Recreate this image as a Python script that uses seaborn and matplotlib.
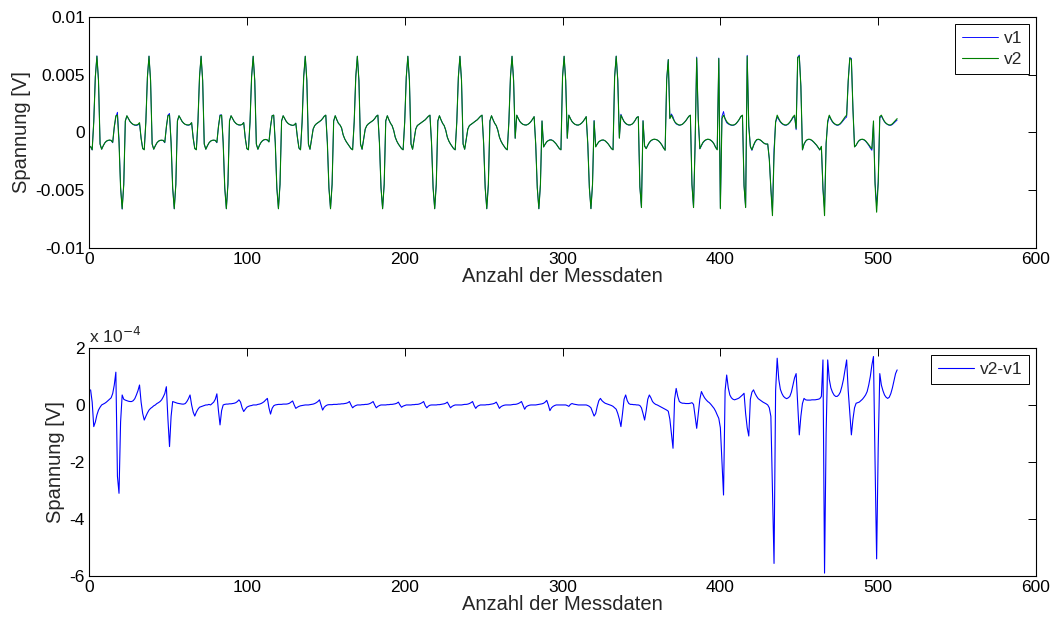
import numpy as np
import matplotlib
matplotlib.use("Agg")
import matplotlib.pyplot as plt
from matplotlib.ticker import FuncFormatter
import seaborn as sns

# Measured voltage v2 in mV, one value per sample (samples 1..512)
v2_mv = [
    -1.2, -1.5, 0.9, 4.8,
    6.6, 4.5, -1.0, -1.45, -1.15, -0.9, -0.75, -0.68, -0.65, -0.68, -0.85, 0.5, 1.45, 1.5, -0.9, -4.8, -6.6,
    -4.5, 1.0, 1.45, 1.2, 0.95, 0.8, 0.7, 0.65, 0.65, 0.7, 0.85, -0.5, -1.4, -1.5, 0.9, 4.8, 6.6,
    4.5, -1.0, -1.45, -1.15, -0.9, -0.75, -0.68, -0.66, -0.68, -0.85, 0.5, 1.45, 1.5, -0.9, -4.8, -6.6,
    -4.5, 1.0, 1.45, 1.2, 0.95, 0.8, 0.7, 0.66, 0.65, 0.7, 0.85, -0.5, -1.4, -1.5, 0.9, 4.8, 6.6,
    4.5, -1.0, -1.45, -1.15, -0.9, -0.75, -0.68, -0.66, -0.68, -0.85, 0.5, 1.45, 1.5, -0.9, -4.8, -6.6,
    -4.5, 1.0, 1.45, 1.2, 0.95, 0.8, 0.7, 0.66, 0.65, 0.7, 0.85, -0.5, -1.4, -1.5, 0.9, 4.8, 6.6,
    4.5, -1.0, -1.45, -1.1, -0.85, -0.7, -0.62, -0.6, -0.64, -0.82, 0.5, 1.45, 1.5, -0.9, -4.8, -6.6,
    -4.5, 1.0, 1.45, 1.2, 0.95, 0.8, 0.7, 0.65, 0.62, 0.65, 0.8, -0.4, -1.35, -1.5, 0.9, 4.8, 6.6,
    4.5, -1.0, -1.45, -0.6, 0.3, 0.6, 0.75, 0.85, 0.95, 1.05, 1.2, 1.4, 1.5, -0.9, -4.8, -6.6,
    -4.5, 1.0, 1.45, 1.1, 0.8, 0.65, 0.4, -0.2, -0.55, -0.8, -1.0, -1.2, -1.4, -1.5, 0.9, 4.8, 6.6,
    4.5, -1.0, -1.45, -0.6, 0.3, 0.6, 0.75, 0.85, 0.95, 1.05, 1.2, 1.4, 1.5, -0.9, -4.8, -6.6,
    -4.5, 1.0, 1.45, 1.1, 0.8, 0.6, 0.2, -0.4, -0.75, -1.0, -1.2, -1.4, -1.5, 0.9, 4.8, 6.6,
    4.5, -1.0, -1.45, -0.6, 0.3, 0.6, 0.7, 0.8, 0.9, 1.0, 1.1, 1.25, 1.4, 1.5, -0.9, -4.8, -6.6,
    -4.5, 1.0, 1.45, 1.1, 0.8, 0.6, 0.2, -0.4, -0.75, -1.0, -1.2, -1.4, -1.5, 0.9, 4.8, 6.6,
    4.5, -1.0, -1.45, -0.6, 0.3, 0.6, 0.7, 0.8, 0.9, 1.0, 1.1, 1.25, 1.4, 1.5, -0.9, -4.8, -6.6,
    -4.5, 1.0, 1.45, 1.1, 0.8, 0.6, 0.2, -0.4, -0.75, -1.0, -1.2, -1.4, -1.5, 0.9, 4.8, 6.6,
    4.5, -0.5, 1.5, 1.2, 0.95, 0.8, 0.7, 0.65, 0.64, 0.7, 0.8, 0.95, 1.15, 1.37, -1.0, -4.8, -6.6,
    -4.5, 1.0, -1.25, -1.0, -0.8, -0.7, -0.65, -0.65, -0.72, -0.85, -1.0, -1.2, -1.4, -1.5, 4.8, 6.6,
    4.5, -0.5, 1.5, 1.2, 0.95, 0.8, 0.7, 0.65, 0.64, 0.7, 0.8, 0.95, 1.15, 1.37, -1.0, -4.8, -6.6,
    -4.5, 1.0, -1.25, -1.0, -0.8, -0.7, -0.65, -0.65, -0.72, -0.85, -1.0, -1.2, -1.4, -1.5, 4.8, 6.6,
    4.5, -0.5, 1.5, 1.2, 0.95, 0.8, 0.7, 0.65, 0.66, 0.72, 0.85, 1.05, 1.3, 1.37, -4.7, -6.5,
    1.0, -1.2, -1.4, -1.1, -0.85, -0.7, -0.62, -0.58, -0.6, -0.65, -0.75, -0.9, -1.1, -1.35, -1.54, 4.6, 6.3,
    1.2, 1.5, 1.2, 0.95, 0.8, 0.7, 0.64, 0.66, 0.72, 0.85, 1.0, 1.2, 1.4, 1.5, -4.5, -6.5,
    -1.0, 6.45, 1.1, -1.4, -1.1, -0.85, -0.7, -0.62, -0.58, -0.6, -0.68, -0.8, -1.0, -1.3, -1.5, 6.4, -6.6,
    1.2, 1.5, 1.2, 0.95, 0.8, 0.7, 0.65, 0.64, 0.68, 0.78, 0.95, 1.15, 1.4, 1.5, -4.6, -6.5, 6.6,
    0.5, -1.2, -1.5, -1.1, -0.8, -0.62, -0.58, -0.62, -0.72, -0.85, -0.96, -1.0, -1.0, -2.3, -4.9, -7.2,
    -2.0, 0.93, 1.5, 1.2, 0.95, 0.8, 0.7, 0.65, 0.66, 0.75, 0.9, 1.1, 1.35, 1.5, 0.35, 6.5, 6.6,
    4.0, -1.5, -1.0, -0.75, -0.62, -0.58, -0.6, -0.68, -0.8, -0.95, -1.1, -1.3, -1.5, -1.2, -4.8, -7.2,
    -1.0, 1.0, 1.5, 1.2, 0.95, 0.8, 0.7, 0.65, 0.68, 0.78, 0.95, 1.15, 1.35, 1.5, 4.5, 6.45,
    6.3, 2.0, -1.25, -1.1, -0.85, -0.68, -0.6, -0.58, -0.62, -0.72, -0.88, -1.05, -1.25, -1.4, 1.0, -4.5, -6.9,
    -4.4, 1.37, 1.5, 1.2, 0.95, 0.8, 0.7, 0.65, 0.66, 0.75, 0.9, 1.05, 1.2,
]

# Difference v2 - v1 in units of 1e-4 V (samples 1..512)
diff_e4 = [
    0.53, 0.1, -0.76, -0.6, -0.35, -0.18, -0.08, 0.0, 0.03, 0.06, 0.1, 0.15, 0.2, 0.25, 0.4, 0.7, 1.15, -2.5, -3.1, -0.6,
    0.35, 0.2, 0.17, 0.15, 0.13, 0.12, 0.12, 0.15, 0.22, 0.35, 0.5, 0.7, 0.1, -0.3, -0.53, -0.4, -0.28, -0.18, -0.12, -0.08,
    -0.03, 0.0, 0.05, 0.08, 0.12, 0.18, 0.28, 0.4, 0.64, -0.5, -1.46, -0.4, 0.12, 0.1, 0.08, 0.06, 0.05, 0.04, 0.03, 0.03,
    0.05, 0.12, 0.22, 0.35, 0.0, -0.25, -0.39, -0.25, -0.15, -0.08, -0.06, -0.04, -0.02, 0.0, 0.0, 0.02, 0.0, 0.05, 0.1, 0.2,
    0.39, -0.2, -0.7, -0.2, 0.0, 0.02, 0.03, 0.03, 0.04, 0.04, 0.05, 0.06, 0.08, 0.12, 0.18, 0.1, -0.1, -0.23, -0.15, -0.08,
    -0.05, -0.03, -0.02, 0.0, 0.0, 0.0, 0.02, 0.03, 0.05, 0.08, 0.12, 0.18, 0.23, -0.1, -0.32, -0.12, -0.03, 0.0, 0.01, 0.02,
    0.02, 0.02, 0.03, 0.03, 0.03, 0.04, 0.06, 0.1, 0.14, 0.0, -0.12, -0.08, -0.05, -0.03, -0.02, -0.01, 0.0, 0.0, 0.0, 0.01,
    0.02, 0.03, 0.05, 0.08, 0.12, 0.18, 0.0, -0.18, -0.08, -0.03, 0.0, 0.01, 0.01, 0.01, 0.02, 0.02, 0.02, 0.03, 0.03, 0.04,
    0.04, 0.05, 0.06, 0.08, 0.12, 0.0, -0.1, -0.05, -0.02, 0.0, 0.0, 0.0, 0.01, 0.01, 0.02, 0.02, 0.03, 0.05, 0.08, 0.12,
    0.0, -0.1, -0.05, -0.02, 0.0, 0.0, 0.0, 0.0, 0.01, 0.01, 0.02, 0.02, 0.03, 0.04, 0.06, 0.1, 0.0, -0.08, -0.04, -0.02,
    0.0, 0.0, 0.0, 0.0, 0.01, 0.01, 0.02, 0.02, 0.03, 0.05, 0.08, 0.12, -0.02, -0.1, -0.04, -0.01, 0.0, 0.0, 0.0, 0.0,
    0.01, 0.01, 0.02, 0.03, 0.04, 0.06, 0.1, 0.0, -0.1, -0.05, -0.02, 0.0, 0.0, 0.0, 0.0, 0.0, 0.01, 0.02, 0.02, 0.03,
    0.05, 0.08, 0.12, -0.02, -0.12, -0.05, -0.02, 0.0, 0.0, 0.0, 0.0, 0.01, 0.01, 0.02, 0.03, 0.04, 0.06, 0.1, 0.0, -0.12,
    -0.06, -0.03, -0.01, 0.0, 0.0, 0.0, 0.0, 0.01, 0.02, 0.02, 0.03, 0.05, 0.08, 0.12, -0.02, -0.15, -0.06, -0.03, -0.01, 0.0,
    0.0, 0.0, 0.0, 0.01, 0.02, 0.03, 0.04, 0.06, 0.1, 0.16, 0.0, -0.2, -0.1, -0.05, -0.02, 0.0, 0.0, 0.0, 0.0, 0.0,
    0.0, 0.0, -0.02, -0.05, 0.02, 0.05, 0.03, 0.02, 0.01, 0.0, 0.0, 0.0, 0.0, 0.0, 0.0, -0.02, -0.05, -0.1, -0.25, -0.39,
    -0.3, -0.05, 0.15, 0.23, 0.15, 0.1, 0.06, 0.04, 0.02, 0.0, -0.02, -0.05, -0.1, -0.15, -0.3, -0.5, -0.76, -0.3, 0.2, 0.35,
    0.15, 0.05, 0.02, 0.02, 0.01, 0.01, 0.0, 0.0, -0.02, -0.1, -0.3, -0.53, -0.2, 0.2, 0.35, 0.25, 0.12, 0.06, 0.02, 0.0,
    -0.03, -0.06, -0.09, -0.12, -0.15, -0.18, -0.22, -0.5, -1.0, -1.52, 0.2, 0.58, 0.3, 0.12, 0.08, 0.06, 0.06, 0.05, 0.05, 0.05,
    0.06, 0.08, 0.02, -0.4, -0.82, -0.3, 0.2, 0.47, 0.35, 0.25, 0.18, 0.12, 0.08, 0.02, -0.05, -0.12, -0.22, -0.35, -0.47, -0.8,
    -2.0, -3.16, 0.5, 1.05, 0.6, 0.35, 0.25, 0.2, 0.18, 0.2, 0.22, 0.25, 0.3, 0.35, 0.41, -0.3, -0.8, -1.09, 0.2, 0.45,
    0.53, 0.4, 0.3, 0.22, 0.18, 0.14, 0.1, 0.07, 0.04, 0.0, -0.1, -0.4, -3.0, -5.56, 0.5, 1.64, 0.9, 0.55, 0.4, 0.3,
    0.25, 0.22, 0.25, 0.3, 0.45, 0.7, 0.95, 1.1, 0.0, -1.05, -0.4, 0.05, 0.23, 0.18, 0.17, 0.17, 0.17, 0.18, 0.18, 0.18,
    0.19, 0.2, 0.22, 0.3, 1.58, -5.9, -1.0, 1.58, 0.9, 0.6, 0.45, 0.35, 0.3, 0.3, 0.35, 0.45, 0.65, 0.9, 1.25, 1.58,
    0.5, -0.3, -1.05, -0.5, -0.1, 0.06, 0.08, 0.1, 0.15, 0.2, 0.27, 0.35, 0.47, 0.7, 1.0, 1.4, 1.7, -2.0, -5.4, -1.5,
    1.1, 0.7, 0.5, 0.35, 0.27, 0.23, 0.27, 0.4, 0.6, 0.85, 1.1, 1.23,
]

x_ticks = [0, 100, 200, 300, 400, 500, 600]
top_yticks = [-0.01, -0.005, 0, 0.005, 0.01]
bottom_yticks = [-6e-4, -4e-4, -2e-4, 0, 2e-4]

v2 = np.array(v2_mv) * 1e-3
diff = np.array(diff_e4) * 1e-4
v1 = v2 - diff
n = np.arange(1, len(v2) + 1)

sns.set_style("white")
plt.rcParams["font.family"] = ["Liberation Sans", "DejaVu Sans"]

TICK_FS = 12.5
LABEL_FS = 14.5

fig = plt.figure(figsize=(10.56, 6.22), dpi=100)
ax1 = fig.add_axes([0.0843, 0.6013, 0.8968, 0.3714])
ax2 = fig.add_axes([0.0843, 0.0740, 0.8968, 0.3666])

sns.lineplot(x=n, y=v1, ax=ax1, color="#0000ff", lw=0.65, label="v1")
sns.lineplot(x=n, y=v2, ax=ax1, color="#008000", lw=0.8, label="v2")
sns.lineplot(x=n, y=diff, ax=ax2, color="#0000ff", lw=0.8, label="v2-v1")

ax1.set_ylim(-0.01, 0.01)
ax1.set_yticks(top_yticks)
ax1.yaxis.set_major_formatter(FuncFormatter(lambda v, p: f"{round(v, 4):g}"))

ax2.set_ylim(-6e-4, 2e-4)
ax2.set_yticks(bottom_yticks)
ax2.yaxis.set_major_formatter(FuncFormatter(lambda v, p: f"{round(v / 1e-4):g}"))
ax2.text(0.0, 1.008, r"x 10$^{-4}$", transform=ax2.transAxes, fontsize=TICK_FS,
         ha="left", va="bottom")

for ax in (ax1, ax2):
    ax.set_xlim(0, 600)
    ax.set_xticks(x_ticks)
    ax.set_xlabel("Anzahl der Messdaten", fontsize=LABEL_FS, labelpad=0)
    ax.set_ylabel("Spannung [V]", fontsize=LABEL_FS, labelpad=3)
    ax.tick_params(direction="in", length=6, width=0.7, top=True, right=True,
                   labelsize=TICK_FS, pad=3, colors="black")
    for sp in ax.spines.values():
        sp.set_color("black")
        sp.set_linewidth(0.8)
    ax.grid(False)

leg1 = ax1.legend(loc="upper right", frameon=True, fancybox=False, framealpha=1,
                  edgecolor="black", fontsize=TICK_FS, handlelength=2.1,
                  borderpad=0.4, labelspacing=0.35, handletextpad=0.3,
                  borderaxespad=0.4)
leg1.get_frame().set_linewidth(0.7)
leg2 = ax2.legend(loc="upper right", frameon=True, fancybox=False, framealpha=1,
                  edgecolor="black", fontsize=TICK_FS, handlelength=2.1,
                  borderpad=0.4, handletextpad=0.3, borderaxespad=0.4)
leg2.get_frame().set_linewidth(0.7)

fig.savefig("out.png", dpi=100)
